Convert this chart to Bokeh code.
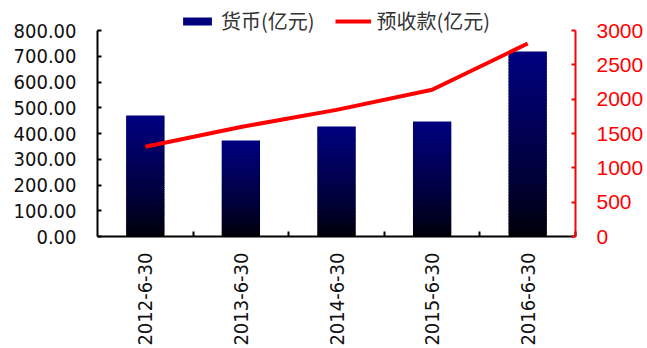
import numpy as np
from bokeh.plotting import figure
from bokeh.models import (Range1d, LinearAxis, FixedTicker, Legend, LegendItem,
                          ColumnDataSource, NumeralTickFormatter)
from bokeh.embed import file_html
from bokeh.resources import INLINE

# ---- data ----
dates = ["2012-6-30", "2013-6-30", "2014-6-30", "2015-6-30", "2016-6-30"]
currency = [470, 373, 427, 447, 718]          # 货币(亿元), left axis
advance = [1307, 1595, 1844, 2137, 2810]      # 预收款(亿元), right axis
left_ticks = [0, 100, 200, 300, 400, 500, 600, 700, 800]
right_ticks = [0, 500, 1000, 1500, 2000, 2500, 3000]

x = list(range(1, len(dates) + 1))

# frame extends above the axes' top so the legend can sit inside it
FRAME_TOP, AXIS_TOP, AXIS_BOTTOM = 4, 30, 236
stretch = (AXIS_BOTTOM - FRAME_TOP) / (AXIS_BOTTOM - AXIS_TOP)

p = figure(width=647, height=348, output_backend="svg", toolbar_location=None,
           x_range=Range1d(0.5, len(dates) + 0.5),
           y_range=Range1d(0, left_ticks[-1] * stretch),
           min_border_left=97, min_border_right=72, min_border_top=FRAME_TOP,
           min_border_bottom=348 - AXIS_BOTTOM)
p.outline_line_color = None
p.xgrid.visible = False
p.ygrid.visible = False
p.background_fill_color = "white"
p.border_fill_color = "white"

p.extra_y_ranges = {"r": Range1d(0, right_ticks[-1] * stretch)}

# ---- gradient bars (navy at top -> black at bottom), built as slices ----
N = 60
xs, bots, tops, cols = [], [], [], []
for k in range(N):
    f0 = k / N
    f1 = (k + 1) / N
    t = (k + 0.5) / N
    b = int(round(6 + (128 - 6) * t ** 0.8))
    col = "#%02x%02x%02x" % (0, 0, b)
    for xi, v in zip(x, currency):
        xs.append(xi)
        bots.append(v * f0)
        tops.append(min(v, v * (f1 + 0.6 / N)))
        cols.append(col)
src = ColumnDataSource(dict(x=xs, bottom=bots, top=tops, color=cols))
rb = p.vbar(x="x", bottom="bottom", top="top", width=0.4, source=src,
            fill_color="color", line_color=None)

# ---- line on right axis ----
rl = p.line(x, advance, y_range_name="r", line_color="#ff0000", line_width=4)

# ---- axes ----
lab_font = "DejaVu Sans Condensed"
ya = p.yaxis[0]
ya.bounds = (left_ticks[0], left_ticks[-1])
ya.ticker = FixedTicker(ticks=left_ticks)
ya.formatter = NumeralTickFormatter(format="0.00")
ya.major_tick_in = 4
ya.major_tick_out = 0
ya.minor_tick_line_color = None
ya.axis_line_width = 2
ya.major_tick_line_width = 2
ya.major_label_standoff = 21
ya.major_label_text_font = lab_font
ya.major_label_text_font_size = "20px"
ya.major_label_text_color = "#111111"

ra = LinearAxis(y_range_name="r")
ra.bounds = (right_ticks[0], right_ticks[-1])
ra.ticker = FixedTicker(ticks=right_ticks)
ra.major_tick_in = 4
ra.major_tick_out = 0
ra.minor_tick_line_color = None
ra.axis_line_color = "#ff0000"
ra.major_tick_line_color = "#ff0000"
ra.axis_line_width = 2
ra.major_tick_line_width = 2
ra.major_label_standoff = 21
ra.major_label_text_color = "#ff0000"
ra.major_label_text_font = "Liberation Sans"
ra.major_label_text_font_size = "21px"
p.add_layout(ra, "right")

xa = p.xaxis[0]
xa.ticker = FixedTicker(ticks=x, minor_ticks=[xi + 0.5 for xi in x])
xa.major_label_overrides = {xi: d for xi, d in zip(x, dates)}
xa.major_tick_in = 0
xa.major_tick_out = 0
xa.minor_tick_in = 5
xa.minor_tick_out = 0
xa.minor_tick_line_width = 2
xa.axis_line_width = 2
xa.major_label_orientation = np.pi / 2
xa.major_label_standoff = 16
xa.major_label_text_font = lab_font
xa.major_label_text_font_size = "20px"
xa.major_label_text_color = "#111111"

# ---- legend (top of the frame, above the axes' top) ----
legend = Legend(items=[
    LegendItem(label="货币(亿元)", renderers=[rb], index=len(xs) - 1),
    LegendItem(label="预收款(亿元)", renderers=[rl]),
], orientation="horizontal", location=(82, 201),
    glyph_width=36, glyph_height=10, label_standoff=6, spacing=20,
    padding=0, margin=0, border_line_color=None, background_fill_alpha=0,
    label_text_font="Noto Sans CJK SC", label_text_font_size="20px",
    label_text_color="#333333")
p.add_layout(legend, "center")

open("out.html", "w").write(file_html(p, INLINE))
